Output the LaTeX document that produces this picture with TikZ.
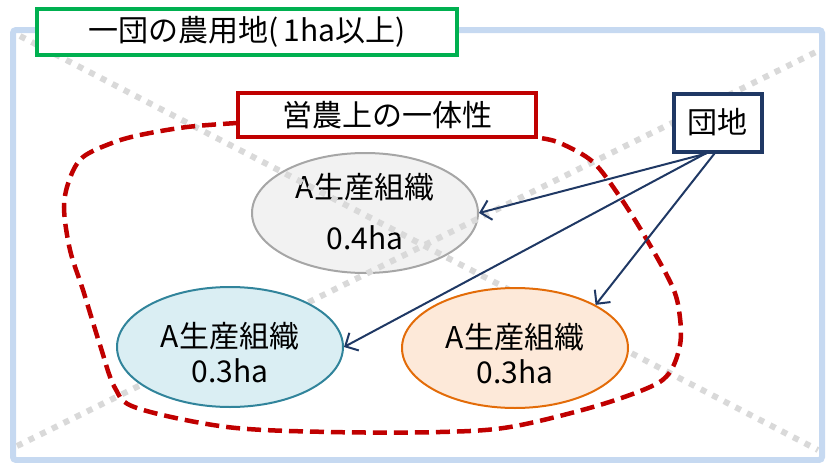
\documentclass[tikz,border=0pt]{standalone}
\usepackage{fontspec}
\setmainfont{Noto Sans CJK JP}
\usetikzlibrary{shapes.geometric,arrows.meta}
\definecolor{outerblue}{HTML}{C6D9F1}
\definecolor{dotgray}{HTML}{D9D9D9}
\definecolor{boxgreen}{HTML}{00B050}
\definecolor{boxred}{HTML}{C00000}
\definecolor{navy}{HTML}{1F3864}
\definecolor{grayfill}{HTML}{F2F2F2}
\definecolor{grayline}{HTML}{A6A6A6}
\definecolor{bluefill}{HTML}{DAEEF3}
\definecolor{blueline}{HTML}{31849B}
\definecolor{orangefill}{HTML}{FDE9D9}
\definecolor{orangeline}{HTML}{E36C09}
\tikzset{
  bigtext/.style={font=\fontsize{30}{35}\selectfont, inner sep=0pt},
  labelbox/.style={draw, line width=4pt, fill=white, rectangle, inner sep=0pt, bigtext},
  orgell/.style={ellipse, line width=2pt, minimum width=226pt, minimum height=120pt, inner sep=0pt},
  dotline/.style={dotgray, line width=6pt, dash pattern=on 6pt off 7pt},
  redloop/.style={boxred, line width=4.5pt, dash pattern=on 14pt off 7pt},
  arr/.style={navy, line width=2pt, -{Straight Barb[length=10pt,width=20pt,line width=2pt]}}
}
\begin{document}
\begin{tikzpicture}[x=1pt,y=-1pt]
\useasboundingbox (0,0) rectangle (827,463);
% outer frame
\draw[outerblue, line width=6pt, rounded corners=3pt] (13,30) rectangle (822,460);
% gray ellipse under dotted lines
\node[orgell, draw=grayline, fill=grayfill] (gray) at (365,213) {};
\node[bigtext, align=center] (graytext) at (365,212) {A生産組織\\[16pt]0.4ha};
% dotted lines
\draw[dotline] (20,36) -- (818,450);
\draw[dotline] (17,446) -- (818,51);
% red dashed loop
\draw[redloop] plot[smooth, tension=0.55] coordinates {
 (237,123) (187,127) (140,135) (112,143) (83,157) (70,178) (64,207) (70,250)
 (83,290) (100,345) (115,388) (137,408) (227,427) (330,432) (440,432)
 (510,427) (593,407) (650,387) (670,372) (680,345) (680,318) (673,288)
 (647,240) (620,197) (593,162) (560,143) (540,138)};
% blue and orange ellipses
\node[orgell, draw=blueline, fill=bluefill] (blue) at (230,347) {};
\node[bigtext, align=center] (bluetext) at (230,353) {A生産組織\\[0pt]0.3ha};
\node[orgell, draw=orangeline, fill=orangefill] (orange) at (515,348) {};
\node[bigtext, align=center] (orangetext) at (515,354) {A生産組織\\[0pt]0.3ha};
% label boxes
\node[labelbox, draw=boxgreen, minimum width=420pt, minimum height=46pt] (title) at (247,31.5) {一団の農用地(\,1ha以上)};
\node[labelbox, draw=boxred, minimum width=298pt, minimum height=44pt] (unity) at (387,115) {営農上の一体性};
\node[labelbox, draw=navy, minimum width=88pt, minimum height=58pt] (danchi) at (717.5,122.5) {団地};
% arrows
\draw[arr] ([xshift=-11pt]danchi.south) -- (gray.east);
\draw[arr] ([xshift=-12pt]danchi.south) -- (blue.east);
\draw[arr] ([xshift=-3pt]danchi.south) -- (orange.north east);
\end{tikzpicture}
\end{document}
